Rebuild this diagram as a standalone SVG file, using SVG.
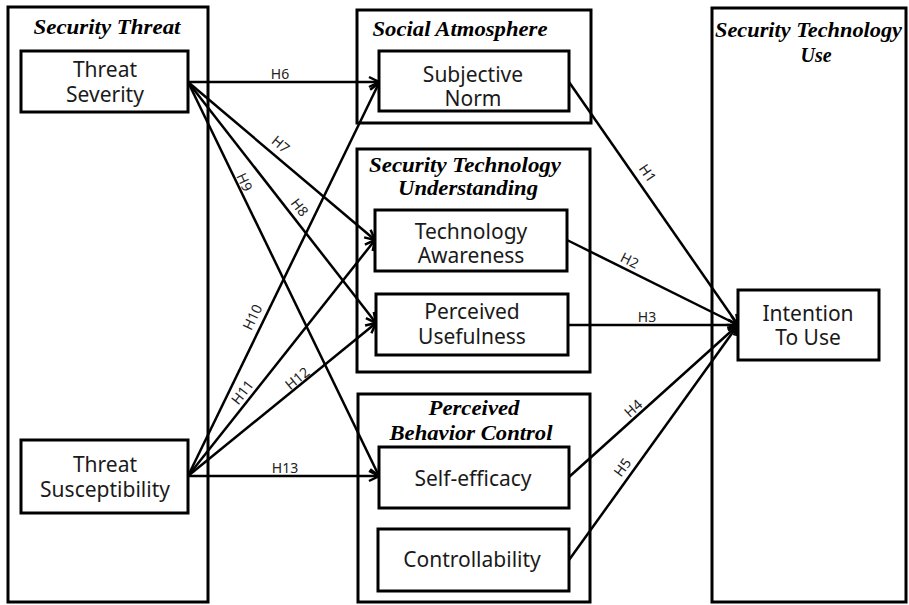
<svg xmlns="http://www.w3.org/2000/svg" width="909" height="605" viewBox="0 0 909 605">
<style>
.box{fill:#fff;stroke:#000;stroke-width:3}
.cont{fill:none;stroke:#000;stroke-width:3}
.hdr{font-family:"Liberation Serif","Times New Roman",serif;font-weight:bold;font-style:italic;font-size:20px;fill:#000;text-anchor:middle}
.lbl{font-family:"Noto Sans","Open Sans",sans-serif;font-size:21px;fill:#1a1a1a;text-anchor:middle}
.edge{stroke:#000;stroke-width:2.5;fill:none}
.arr{marker-end:url(#ah)}
.h{font-family:"Noto Sans","Open Sans",sans-serif;font-size:14px;fill:#222;text-anchor:middle;dominant-baseline:central}
</style>
<defs>
<marker id="ah" markerUnits="userSpaceOnUse" markerWidth="14" markerHeight="14" viewBox="0 0 14 14" refX="12" refY="7" orient="auto">
<path d="M2,2 L12,7 L2,12" fill="none" stroke="#000" stroke-width="2.5"/>
</marker>
</defs>
<rect width="909" height="605" fill="#fff"/>

<g id="security-threat">
<rect class="cont" x="8" y="7" width="200" height="595"/>
<text class="hdr" x="107" y="34" textLength="147" lengthAdjust="spacingAndGlyphs">Security Threat</text>
</g>
<g id="social-atmosphere">
<rect class="cont" x="357" y="10" width="234" height="113"/>
<text class="hdr" x="460" y="36" textLength="175" lengthAdjust="spacingAndGlyphs">Social Atmosphere</text>
</g>
<g id="security-technology-understanding">
<rect class="cont" x="357" y="149" width="233" height="223"/>
<text class="hdr" x="465" y="172" textLength="192" lengthAdjust="spacingAndGlyphs">Security Technology</text>
<text class="hdr" x="468" y="195" textLength="140" lengthAdjust="spacingAndGlyphs">Understanding</text>
</g>
<g id="perceived-behavior-control">
<rect class="cont" x="358" y="394" width="232" height="208"/>
<text class="hdr" x="474" y="415" textLength="91" lengthAdjust="spacingAndGlyphs">Perceived</text>
<text class="hdr" x="471" y="440" textLength="163" lengthAdjust="spacingAndGlyphs">Behavior Control</text>
</g>
<g id="security-technology-use">
<rect class="cont" x="712" y="8" width="194" height="594"/>
<text class="hdr" x="808.5" y="37" textLength="187" lengthAdjust="spacingAndGlyphs">Security Technology</text>
<text class="hdr" x="816" y="62">Use</text>
</g>

<g id="connectors">
<line class="edge arr" x1="188" y1="82" x2="379" y2="82"/>
<line class="edge arr" x1="188" y1="82" x2="375" y2="240"/>
<line class="edge arr" x1="188" y1="82" x2="376" y2="323"/>
<line class="edge arr" x1="188" y1="82" x2="379" y2="476"/>
<line class="edge arr" x1="188" y1="476" x2="379" y2="83"/>
<line class="edge arr" x1="188" y1="476" x2="375" y2="240"/>
<line class="edge arr" x1="188" y1="476" x2="376" y2="323"/>
<line class="edge arr" x1="188" y1="476" x2="379" y2="476"/>
<line class="edge arr" x1="569" y1="82" x2="738" y2="325"/>
<line class="edge arr" x1="567" y1="240" x2="738" y2="325"/>
<line class="edge arr" x1="568" y1="325" x2="738" y2="325"/>
<line class="edge arr" x1="569" y1="477" x2="738" y2="325"/>
<line class="edge arr" x1="569" y1="560" x2="738" y2="325"/>
<text class="h" x="280" y="73">H6</text>
<text class="h" transform="translate(281,144) rotate(40.3)">H7</text>
<text class="h" transform="translate(300,207) rotate(52)">H8</text>
<text class="h" transform="translate(245,182) rotate(64.5)">H9</text>
<text class="h" transform="translate(252,317) rotate(-64.3)">H10</text>
<text class="h" transform="translate(242,392) rotate(-51.7)">H11</text>
<text class="h" transform="translate(297,378) rotate(-39.3)">H12</text>
<text class="h" x="285" y="467">H13</text>
<text class="h" transform="translate(648,173) rotate(55.2)">H1</text>
<text class="h" transform="translate(630,260) rotate(26.4)">H2</text>
<text class="h" x="647" y="316">H3</text>
<text class="h" transform="translate(633,408) rotate(-42)">H4</text>
<text class="h" transform="translate(622,467) rotate(-54)">H5</text>
</g>

<g id="threat-severity">
<rect class="box" x="21" y="51" width="167" height="61"/>
<text class="lbl" x="105" y="77">Threat</text>
<text class="lbl" x="105" y="102">Severity</text>
</g>
<g id="threat-susceptibility">
<rect class="box" x="21" y="440" width="167" height="73"/>
<text class="lbl" x="105" y="472">Threat</text>
<text class="lbl" x="105" y="497">Susceptibility</text>
</g>
<g id="subjective-norm">
<rect class="box" x="379" y="51" width="190" height="60"/>
<text class="lbl" x="473" y="82">Subjective</text>
<text class="lbl" x="473" y="106">Norm</text>
</g>
<g id="technology-awareness">
<rect class="box" x="375" y="210" width="192" height="61"/>
<text class="lbl" x="471" y="239">Technology</text>
<text class="lbl" x="471" y="263">Awareness</text>
</g>
<g id="perceived-usefulness">
<rect class="box" x="376" y="294" width="192" height="61"/>
<text class="lbl" x="472" y="319">Perceived</text>
<text class="lbl" x="472" y="344">Usefulness</text>
</g>
<g id="self-efficacy">
<rect class="box" x="379" y="447" width="190" height="61"/>
<text class="lbl" x="473" y="486">Self-efficacy</text>
</g>
<g id="controllability">
<rect class="box" x="378" y="529" width="191" height="62"/>
<text class="lbl" x="472" y="567">Controllability</text>
</g>
<g id="intention-to-use">
<rect class="box" x="738" y="290" width="141" height="70"/>
<text class="lbl" x="808" y="321">Intention</text>
<text class="lbl" x="808" y="345">To Use</text>
</g>
</svg>
